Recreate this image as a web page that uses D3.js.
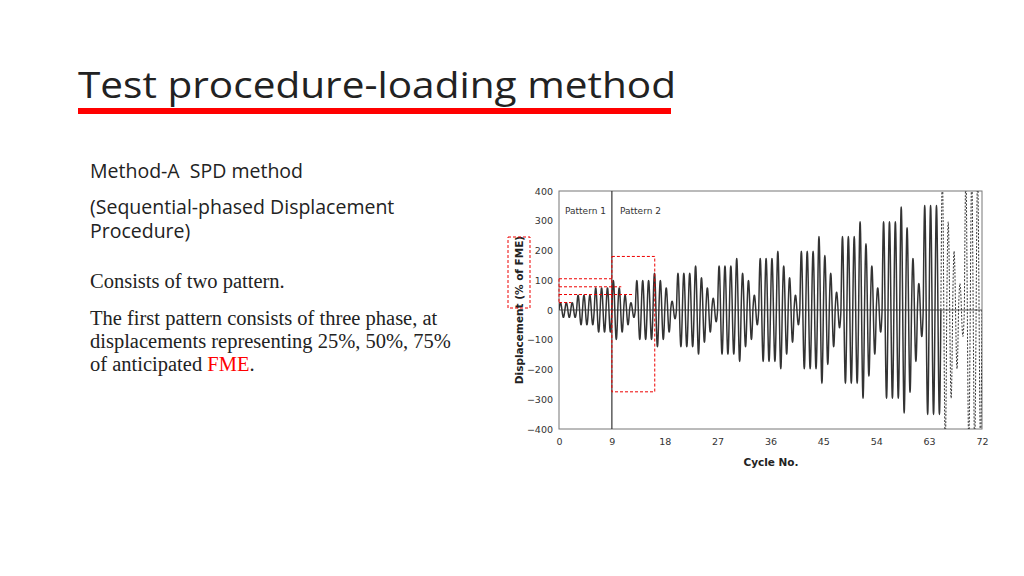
<!DOCTYPE html>
<html>
<head>
<meta charset="utf-8">
<script src="https://cdn.jsdelivr.net/npm/d3@7"></script>
<style>
body { margin: 0; background: #fff; }
</style>
</head>
<body>
<svg id="chart" width="1024" height="576"></svg>
<script>
// peak amplitude of each cycle (% of FME), cycles 0..64 solid
const solidAmps = [
	25, 25, 25, 50, 50, 50, 75, 75, 75,
	100, 75, 50, 25, 100, 100, 100,
	125, 100, 75, 30, 125, 125, 125,
	150, 110, 75, 40, 150, 150, 150,
	175, 125, 100, 50, 175, 175, 175,
	200, 150, 110, 50, 200, 200, 200,
	250, 185, 125, 60, 250, 250, 250,
	300, 225, 150, 75, 300, 300, 300,
	350, 280, 175, 90, 355, 355, 355
];
// dashed tail, cycles 65..71
const dashedAmps = [450, 300, 200, 90, 450, 450, 450];
const xTicks = [0, 9, 18, 27, 36, 45, 54, 63, 72];
const yTicks = [400, 300, 200, 100, 0, -100, -200, -300, -400];

const svg = d3.select('#chart');

const sans = '"Open Sans", Lato, sans-serif';
const serif = '"Liberation Serif", "DejaVu Serif", serif';

// slide text
svg.append('text').attr('x', 78).attr('y', 98)
	.attr('font-family', sans).attr('font-size', 37)
	.attr('textLength', 598).attr('lengthAdjust', 'spacingAndGlyphs')
	.attr('fill', '#222').text('Test procedure-loading method');
svg.append('rect').attr('x', 78).attr('y', 108).attr('width', 593).attr('height', 6)
	.attr('fill', '#f00');

[['Method-A  SPD method', 178], ['(Sequential-phased Displacement', 214], ['Procedure)', 238]]
	.forEach(([t, y]) => svg.append('text').attr('x', 90).attr('y', y).attr('xml:space', 'preserve')
		.attr('font-family', sans).attr('font-size', 19.5).attr('fill', '#222').text(t));
[['Consists of two pattern.', 288], ['The first pattern consists of three phase, at', 325],
	['displacements representing 25%, 50%, 75%', 348]]
	.forEach(([t, y]) => svg.append('text').attr('x', 90).attr('y', y)
		.attr('font-family', serif).attr('font-size', 20.5).attr('fill', '#222').text(t));
const last = svg.append('text').attr('x', 90).attr('y', 371)
	.attr('font-family', serif).attr('font-size', 20.5).attr('fill', '#222');
last.append('tspan').text('of anticipated ');
last.append('tspan').attr('fill', '#f00').text('FME');
last.append('tspan').text('.');

// chart
const xScale = d3.scaleLinear().domain([0, 72]).range([559, 982]);
const yScale = d3.scaleLinear().domain([-400, 400]).range([429, 191]);

svg.append('defs').append('clipPath').attr('id', 'clip')
	.append('rect').attr('x', 559).attr('y', 191).attr('width', 423).attr('height', 238);

svg.append('g').attr('transform', 'translate(0,429)')
	.call(d3.axisBottom(xScale).tickValues(xTicks).tickSize(0).tickPadding(9))
	.call(g => g.select('.domain').remove())
	.selectAll('text').attr('font-family', '"DejaVu Sans", sans-serif').attr('font-size', 9.5).attr('fill', '#333');
svg.append('g').attr('transform', 'translate(559,0)')
	.call(d3.axisLeft(yScale).tickValues(yTicks).tickSize(0).tickPadding(6)
		.tickFormat(d => d < 0 ? '\u2212' + (-d) : d))
	.call(g => g.select('.domain').remove())
	.selectAll('text').attr('font-family', '"DejaVu Sans", sans-serif').attr('font-size', 9.5).attr('fill', '#333');

svg.append('rect').attr('x', 559).attr('y', 191).attr('width', 423).attr('height', 238)
	.attr('fill', 'none').attr('stroke', '#777').attr('stroke-width', 1);
svg.append('line').attr('x1', xScale(0)).attr('x2', xScale(72))
	.attr('y1', yScale(0)).attr('y2', yScale(0)).attr('stroke', '#555').attr('stroke-width', 1);
svg.append('line').attr('x1', xScale(9)).attr('x2', xScale(9))
	.attr('y1', yScale(400)).attr('y2', yScale(-400)).attr('stroke', '#333').attr('stroke-width', 1.2);

function wave(amps, start) {
	const pts = [];
	amps.forEach((a, i) => {
		for (let k = 0; k < 24; k++) {
			const t = k / 24;
			pts.push([start + i + t, a * Math.sin(2 * Math.PI * t)]);
		}
	});
	pts.push([start + amps.length, 0]);
	return pts;
}
const line = d3.line().x(d => xScale(d[0])).y(d => yScale(d[1])).curve(d3.curveBasis);

const plot = svg.append('g').attr('clip-path', 'url(#clip)');
plot.append('path').attr('d', line(wave(solidAmps, 0)))
	.attr('fill', 'none').attr('stroke', '#333').attr('stroke-width', 1.5);
plot.append('path').attr('d', line(wave(dashedAmps, solidAmps.length)))
	.attr('fill', 'none').attr('stroke', '#333').attr('stroke-width', 1)
	.attr('stroke-dasharray', '2,1.5');

svg.append('text').attr('x', 565).attr('y', 214).attr('font-family', '"DejaVu Sans", sans-serif')
	.attr('font-size', 9).attr('fill', '#333').text('Pattern 1');
svg.append('text').attr('x', 620).attr('y', 214).attr('font-family', '"DejaVu Sans", sans-serif')
	.attr('font-size', 9).attr('fill', '#333').text('Pattern 2');

svg.append('text').attr('x', 771).attr('y', 466).attr('text-anchor', 'middle')
	.attr('font-family', '"DejaVu Sans", sans-serif').attr('font-size', 10.5).attr('font-weight', 'bold')
	.attr('fill', '#222').text('Cycle No.');
svg.append('text').attr('transform', 'translate(523,310) rotate(-90)').attr('text-anchor', 'middle')
	.attr('font-family', '"DejaVu Sans", sans-serif').attr('font-size', 10.5).attr('font-weight', 'bold')
	.attr('fill', '#222').text('Displacement (% of FME)');

// red annotations
const red = g => g.attr('fill', 'none').attr('stroke', '#e00').attr('stroke-width', 1).attr('stroke-dasharray', '3,2');
svg.append('rect').attr('x', 508).attr('y', 237).attr('width', 22).attr('height', 71).call(red);
svg.append('rect').attr('x', xScale(9)).attr('y', yScale(180))
	.attr('width', xScale(16.3) - xScale(9)).attr('height', yScale(-275) - yScale(180)).call(red);
[[105, 9.1], [78, 10.6], [52, 12.5], [25, 2.1]].forEach(([v, x2]) =>
	svg.append('line').attr('x1', xScale(0)).attr('x2', xScale(x2))
		.attr('y1', yScale(v)).attr('y2', yScale(v)).call(red));
svg.append('line').attr('x1', xScale(0)).attr('x2', xScale(0))
	.attr('y1', yScale(105)).attr('y2', yScale(25)).call(red);
</script>
</body>
</html>
